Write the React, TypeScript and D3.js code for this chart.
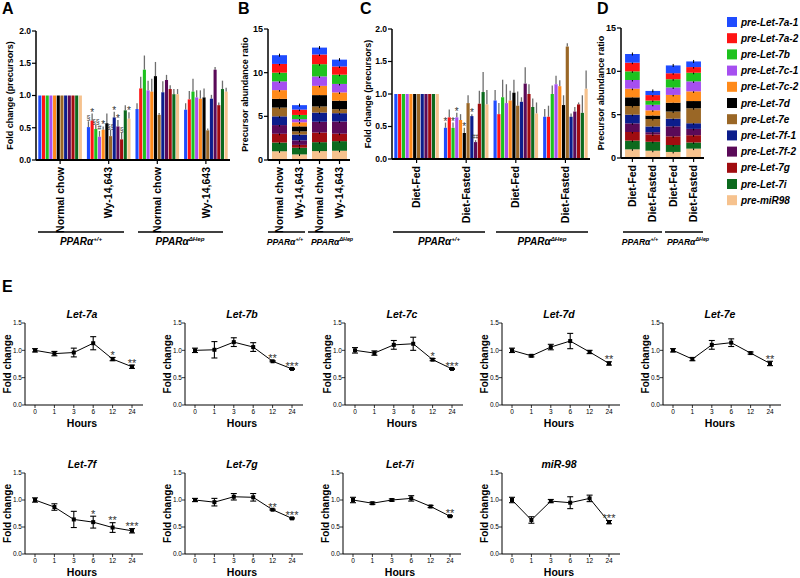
import React from "react";
import * as d3 from "d3";

const FONT = "'Liberation Sans', Arial, Helvetica, sans-serif";

const genes = ["pre-Let-7a-1", "pre-Let-7a-2", "pre-Let-7b", "pre-Let-7c-1", "pre-Let-7c-2", "pre-Let-7d", "pre-Let-7e", "pre-Let-7f-1", "pre-Let-7f-2", "pre-Let-7g", "pre-Let-7i", "pre-miR98"];
const geneColors = ["#1f4cff", "#ff1414", "#1ec21e", "#a64ff0", "#ff8a1a", "#000000", "#9a6726", "#0c1d8c", "#5a0a58", "#a00c10", "#0c6a1e", "#f6c28e"];

const conditionsA = ["Normal chow", "Wy-14,643", "Normal chow", "Wy-14,643"];
const conditionsC = ["Diet-Fed", "Diet-Fasted", "Diet-Fed", "Diet-Fasted"];
const genotypes = ["+/+", "ΔHep"];

const meansA = [
  [1, 1, 1, 1, 1, 1, 1, 1, 1, 1, 1, 1],
  [0.51, 0.61, 0.48, 0.36, 0.47, 0.57, 0.37, 0.66, 0.52, 0.32, 0.77, 0.64],
  [0.79, 1.11, 1.40, 1.08, 1.06, 1.30, 0.70, 1.05, 1.24, 1.10, 1.02, 1.02],
  [0.78, 0.94, 1.06, 0.97, 0.95, 0.97, 0.46, 0.95, 1.40, 0.85, 1.10, 1.06],
];
const errsA = [
  [0, 0, 0, 0, 0, 0, 0, 0, 0, 0, 0, 0],
  [0.09, 0.11, 0.07, 0.09, 0.05, 0.15, 0.10, 0.09, 0.10, 0.10, 0.08, 0.10],
  [0.09, 0.18, 0.22, 0.15, 0.20, 0.22, 0.03, 0.17, 0.08, 0.06, 0.08, 0.08],
  [0.10, 0.13, 0.20, 0.11, 0.13, 0.14, 0.03, 0.06, 0.04, 0.04, 0.13, 0.06],
];
const sigA = [
  ["", "", "", "", "", "", "", "", "", "", "", ""],
  ["§", "*", "§§", "#", "*", "", "§§", "*", "*", "§", "", "*"],
  ["", "", "", "", "", "", "", "", "", "", "", ""],
  ["", "", "", "", "", "", "", "", "", "", "", ""],
];

const meansC = [
  [1, 1, 1, 1, 1, 1, 1, 1, 1, 1, 1, 1],
  [0.48, 0.64, 0.48, 0.64, 0.60, 0.40, 0.86, 0.66, 0.26, 0.85, 1.03, 0.84],
  [0.90, 0.69, 0.95, 0.86, 0.90, 1.02, 0.82, 0.88, 1.16, 1.00, 0.80, 0.70],
  [0.65, 0.65, 1.00, 1.15, 1.12, 0.83, 1.73, 0.65, 0.73, 0.84, 0.71, 1.08],
];
const errsC = [
  [0, 0, 0, 0, 0, 0, 0, 0, 0, 0, 0, 0],
  [0.08, 0.12, 0.08, 0.07, 0.09, 0.08, 0.12, 0.03, 0.03, 0.20, 0.31, 0.22],
  [0.16, 0.17, 0.27, 0.29, 0.15, 0.20, 0.22, 0.07, 0.25, 0.15, 0.13, 0.17],
  [0.12, 0.17, 0.13, 0.13, 0.09, 0.15, 0.05, 0.05, 0.07, 0.03, 0.27, 0.28],
];
const sigC = [
  ["", "", "", "", "", "", "", "", "", "", "", ""],
  ["*", "", "*", "*", "", "*", "", "*", "##", "", "", ""],
  ["", "", "", "", "", "", "", "", "", "", "", ""],
  ["", "", "", "", "", "", "", "", "", "", "", ""],
];

const hours = ["0", "1", "3", "6", "12", "24"];
const eTitles = ["Let-7a", "Let-7b", "Let-7c", "Let-7d", "Let-7e", "Let-7f", "Let-7g", "Let-7i", "miR-98"];
const eMeans = [
  [1.0, 0.94, 0.96, 1.13, 0.84, 0.70],
  [1.0, 1.01, 1.15, 1.06, 0.80, 0.66],
  [1.0, 0.95, 1.10, 1.12, 0.83, 0.66],
  [1.0, 0.90, 1.06, 1.17, 0.97, 0.76],
  [1.0, 0.84, 1.10, 1.14, 0.95, 0.76],
  [1.0, 0.87, 0.64, 0.59, 0.49, 0.43],
  [1.0, 0.96, 1.06, 1.05, 0.82, 0.66],
  [1.0, 0.94, 1.00, 1.03, 0.88, 0.70],
  [1.0, 0.63, 0.98, 0.95, 1.03, 0.59],
];
const eErrs = [
  [0.03, 0.04, 0.08, 0.12, 0.03, 0.03],
  [0.04, 0.15, 0.08, 0.08, 0.01, 0.01],
  [0.05, 0.04, 0.08, 0.12, 0.02, 0.01],
  [0.04, 0.02, 0.05, 0.14, 0.03, 0.03],
  [0.03, 0.03, 0.08, 0.07, 0.02, 0.04],
  [0.04, 0.06, 0.15, 0.11, 0.09, 0.04],
  [0.03, 0.07, 0.06, 0.07, 0.01, 0.01],
  [0.05, 0.02, 0.02, 0.05, 0.02, 0.01],
  [0.05, 0.06, 0.03, 0.11, 0.06, 0.03],
];
const eSig = [
  ["", "", "", "", "*", "**"],
  ["", "", "", "", "**", "***"],
  ["", "", "", "", "*", "***"],
  ["", "", "", "", "", "**"],
  ["", "", "", "", "", "**"],
  ["", "", "", "*", "**", "***"],
  ["", "", "", "", "**", "***"],
  ["", "", "", "", "", "**"],
  ["", "", "", "", "", "***"],
];

type GenoLine = { x1: number; x2: number; cx: number };

function GenotypeLabels({ lines, y, size }: { lines: GenoLine[]; y: number; size: number }) {
  return (
    <g>
      {lines.map((l, i) => (
        <g key={i}>
          <line x1={l.x1} x2={l.x2} y1={y} y2={y} stroke="#000" strokeWidth={1.3} />
          <text x={l.cx} y={y + 13} textAnchor="middle" fontStyle="italic" fontWeight="bold" fontSize={size}>
            PPARα<tspan dy={-4} fontSize={size * 0.62}>{genotypes[i]}</tspan>
          </text>
        </g>
      ))}
    </g>
  );
}

function YAxis({ x, scale, ticks, fmt, fontSize }: { x: number; scale: d3.ScaleLinear<number, number>; ticks: number[]; fmt: (v: number) => string; fontSize: number }) {
  const [r0, r1] = scale.range();
  return (
    <g>
      <line x1={x} x2={x} y1={r0} y2={r1} stroke="#000" strokeWidth={1.5} />
      {ticks.map((t) => (
        <g key={t}>
          <line x1={x - 4} x2={x} y1={scale(t)} y2={scale(t)} stroke="#000" strokeWidth={1.2} />
          <text x={x - 5} y={scale(t)} dy="0.35em" textAnchor="end" fontSize={fontSize} fontWeight="bold">{fmt(t)}</text>
        </g>
      ))}
    </g>
  );
}

function GroupedPanel(props: {
  left: number; right: number; top: number; bottom: number;
  conds: string[]; means: number[][]; errs: number[][]; sig: string[][];
  yLabelX: number; lines: GenoLine[]; letter: string; letterX: number;
}) {
  const { left, right, top, bottom, conds, means, errs, sig, yLabelX, lines, letter, letterX } = props;
  const y = d3.scaleLinear().domain([0, 2]).range([bottom, top]);
  const gx = d3.scaleBand<number>().domain(d3.range(conds.length)).range([left + 2, right - 2]).paddingInner(0.09);
  const bx = d3.scaleBand<number>().domain(d3.range(genes.length)).range([0, gx.bandwidth()]);
  const bw = bx.bandwidth();
  return (
    <g>
      <text x={letterX} y={14} fontSize={16} fontWeight="bold">{letter}</text>
      {means.map((row, gi) =>
        row.map((v, k) => {
          const x0 = gx(gi)! + bx(k)!;
          const cx = x0 + bw / 2;
          const e = errs[gi][k];
          const s = sig[gi][k];
          return (
            <g key={gi + "-" + k}>
              {e > 0 && <line x1={cx} x2={cx} y1={y(v)} y2={y(v + e)} stroke="#6e6e6e" strokeWidth={1.3} />}
              <rect x={x0 + 0.3} y={y(v)} width={bw - 0.6} height={bottom - y(v)} fill={geneColors[k]} />
              {s && (
                <text x={cx} y={y(v + e) - (s.includes("*") ? -2 : 1)} textAnchor="middle" fontSize={s.includes("*") ? 10 : 7} fill="#333">{s}</text>
              )}
            </g>
          );
        })
      )}
      <YAxis x={left} scale={y} ticks={y.ticks(4)} fmt={d3.format(".1f")} fontSize={8.5} />
      <line x1={left} x2={right} y1={bottom} y2={bottom} stroke="#000" strokeWidth={2} />
      {conds.map((c, gi) => {
        const cx = gx(gi)! + gx.bandwidth() / 2;
        return (
          <g key={gi}>
            <line x1={cx} x2={cx} y1={bottom} y2={bottom + 4} stroke="#000" strokeWidth={1.2} />
            <text transform={`translate(${cx},${bottom + 7}) rotate(-90)`} dy="0.35em" textAnchor="end" fontSize={10.5} fontWeight="bold">{c}</text>
          </g>
        );
      })}
      <text transform={`translate(${yLabelX},${(top + bottom) / 2}) rotate(-90)`} dy="0.35em" textAnchor="middle" fontSize={9} fontWeight="bold">Fold change (precursors)</text>
      <GenotypeLabels lines={lines} y={232} size={10} />
    </g>
  );
}

function StackedPanel(props: {
  left: number; right: number; top: number; bottom: number;
  conds: string[]; means: number[][]; yLabelX: number; lines: GenoLine[];
  letter: string; letterX: number; pad: [number, number];
}) {
  const { left, right, top, bottom, conds, means, yLabelX, lines, letter, letterX, pad } = props;
  const y = d3.scaleLinear().domain([0, 15]).range([bottom, top]);
  const x = d3.scaleBand<number>().domain(d3.range(conds.length)).range([left + 1, right]).paddingInner(pad[0]).paddingOuter(pad[1]);
  const keys = genes.map((_, i) => i).reverse();
  const rows = means.map((r) => {
    const o: Record<string, number> = {};
    r.forEach((v, i) => (o[String(i)] = v));
    return o;
  });
  const series = d3.stack<Record<string, number>>().keys(keys.map(String))(rows);
  return (
    <g>
      <text x={letterX} y={14} fontSize={16} fontWeight="bold">{letter}</text>
      {series.map((s) => {
        const gi = +s.key;
        return s.map((d, bi) => (
          <g key={s.key + "-" + bi}>
            <rect x={x(bi)!} y={y(d[1])} width={x.bandwidth()} height={y(d[0]) - y(d[1])} fill={geneColors[gi]} />
            <line x1={x(bi)! + x.bandwidth() / 2} x2={x(bi)! + x.bandwidth() / 2} y1={y(d[1]) - 1.5} y2={y(d[1]) + 1.5} stroke="#000" strokeWidth={1} />
          </g>
        ));
      })}
      <YAxis x={left} scale={y} ticks={[0, 5, 10, 15]} fmt={d3.format("d")} fontSize={9} />
      <line x1={left} x2={right} y1={bottom} y2={bottom} stroke="#000" strokeWidth={2} />
      {conds.map((c, bi) => {
        const cx = x(bi)! + x.bandwidth() / 2;
        return (
          <g key={bi}>
            <line x1={cx} x2={cx} y1={bottom} y2={bottom + 4} stroke="#000" strokeWidth={1.2} />
            <text transform={`translate(${cx},${bottom + 7}) rotate(-90)`} dy="0.35em" textAnchor="end" fontSize={10.5} fontWeight="bold">{c}</text>
          </g>
        );
      })}
      <text transform={`translate(${yLabelX},${(top + bottom) / 2}) rotate(-90)`} dy="0.35em" textAnchor="middle" fontSize={9} fontWeight="bold">Precursor abundance ratio</text>
      <GenotypeLabels lines={lines} y={232} size={8.6} />
    </g>
  );
}

function TimePanel({ x0, top, bottom, idx }: { x0: number; top: number; bottom: number; idx: number }) {
  const x = d3.scalePoint<string>().domain(hours).range([x0 + 10, x0 + 107]);
  const y = d3.scaleLinear().domain([0, 1.5]).range([bottom, top]);
  const m = eMeans[idx];
  const e = eErrs[idx];
  const s = eSig[idx];
  const line = d3.line<number>().x((_, i) => x(hours[i])!).y((d) => y(d));
  const cx = x0 + 57;
  return (
    <g>
      <text x={cx} y={top - 5} textAnchor="middle" fontSize={10.5} fontWeight="bold" fontStyle="italic">{eTitles[idx]}</text>
      <line x1={x0} x2={x0} y1={bottom} y2={top} stroke="#000" strokeWidth={1} />
      {y.ticks(3).map((t) => (
        <g key={t}>
          <line x1={x0 - 3} x2={x0} y1={y(t)} y2={y(t)} stroke="#000" strokeWidth={0.8} />
          <text x={x0 - 3} y={y(t)} dy="0.35em" textAnchor="end" fontSize={6.5}>{d3.format(".1f")(t)}</text>
        </g>
      ))}
      <line x1={x0} x2={x0 + 118} y1={bottom} y2={bottom} stroke="#000" strokeWidth={1} />
      {hours.map((h) => (
        <g key={h}>
          <line x1={x(h)!} x2={x(h)!} y1={bottom} y2={bottom + 3} stroke="#000" strokeWidth={0.8} />
          <text x={x(h)!} y={bottom + 9} textAnchor="middle" fontSize={6.5}>{h}</text>
        </g>
      ))}
      <path d={line(m)!} fill="none" stroke="#000" strokeWidth={1} />
      {m.map((v, i) => {
        const px = x(hours[i])!;
        return (
          <g key={i}>
            <line x1={px} x2={px} y1={y(v - e[i])} y2={y(v + e[i])} stroke="#000" strokeWidth={1.1} />
            <line x1={px - 3} x2={px + 3} y1={y(v - e[i])} y2={y(v - e[i])} stroke="#000" strokeWidth={1.1} />
            <line x1={px - 3} x2={px + 3} y1={y(v + e[i])} y2={y(v + e[i])} stroke="#000" strokeWidth={1.1} />
            <rect x={px - 2} y={y(v) - 2} width={4} height={4} fill="#000" />
            {s[i] && (
              <text x={px} y={y(v + e[i]) + 1.5} textAnchor="middle" fontSize={11} fill="#333">{s[i]}</text>
            )}
          </g>
        );
      })}
      <text transform={`translate(${x0 - 18},${(top + bottom) / 2}) rotate(-90)`} dy="0.35em" textAnchor="middle" fontSize={10} fontWeight="bold">Fold change</text>
      <text x={cx} y={bottom + 22} textAnchor="middle" fontSize={10.5} fontWeight="bold">Hours</text>
    </g>
  );
}

export default function App() {
  const topRow = [25, 185, 345, 502, 663];
  const botRow = [25, 185, 343, 502];
  return (
    <svg width={800} height={578} style={{ position: "absolute", left: 0, top: 0, background: "#fff" }} fontFamily={FONT}>
      <rect width={800} height={578} fill="#fff" />
      <GroupedPanel left={36} right={230} top={31} bottom={160} conds={conditionsA} means={meansA} errs={errsA} sig={sigA}
        yLabelX={10} letter="A" letterX={2}
        lines={[{ x1: 38, x2: 124, cx: 81 }, { x1: 138, x2: 223, cx: 180 }]} />
      <StackedPanel left={268} right={350} top={29} bottom={160} conds={conditionsA} means={meansA} yLabelX={245}
        letter="B" letterX={238} pad={[0.25, 0.15]}
        lines={[{ x1: 268, x2: 305, cx: 285 }, { x1: 308, x2: 350, cx: 332 }]} />
      <GroupedPanel left={392} right={590} top={29} bottom={159} conds={conditionsC} means={meansC} errs={errsC} sig={sigC}
        yLabelX={368} letter="C" letterX={360}
        lines={[{ x1: 393, x2: 485, cx: 439 }, { x1: 496, x2: 588, cx: 542 }]} />
      <StackedPanel left={621} right={704} top={28} bottom={158} conds={conditionsC} means={meansC} yLabelX={601}
        letter="D" letterX={597} pad={[0.28, 0.15]}
        lines={[{ x1: 623, x2: 662, cx: 640 }, { x1: 665, x2: 703, cx: 688 }]} />
      <g>
        {genes.map((g, i) => {
          const cy = 22 + i * 16.2;
          return (
            <g key={g}>
              <rect x={727} y={cy - 5} width={10} height={10} fill={geneColors[i]} />
              <text x={741} y={cy} dy="0.35em" fontSize={10} fontWeight="bold" fontStyle="italic">{g}</text>
            </g>
          );
        })}
      </g>
      <text x={2} y={292} fontSize={16} fontWeight="bold">E</text>
      {topRow.map((x0, i) => (
        <TimePanel key={"t" + i} x0={x0} top={323} bottom={405} idx={i} />
      ))}
      {botRow.map((x0, i) => (
        <TimePanel key={"b" + i} x0={x0} top={473} bottom={554} idx={i + 5} />
      ))}
    </svg>
  );
}
